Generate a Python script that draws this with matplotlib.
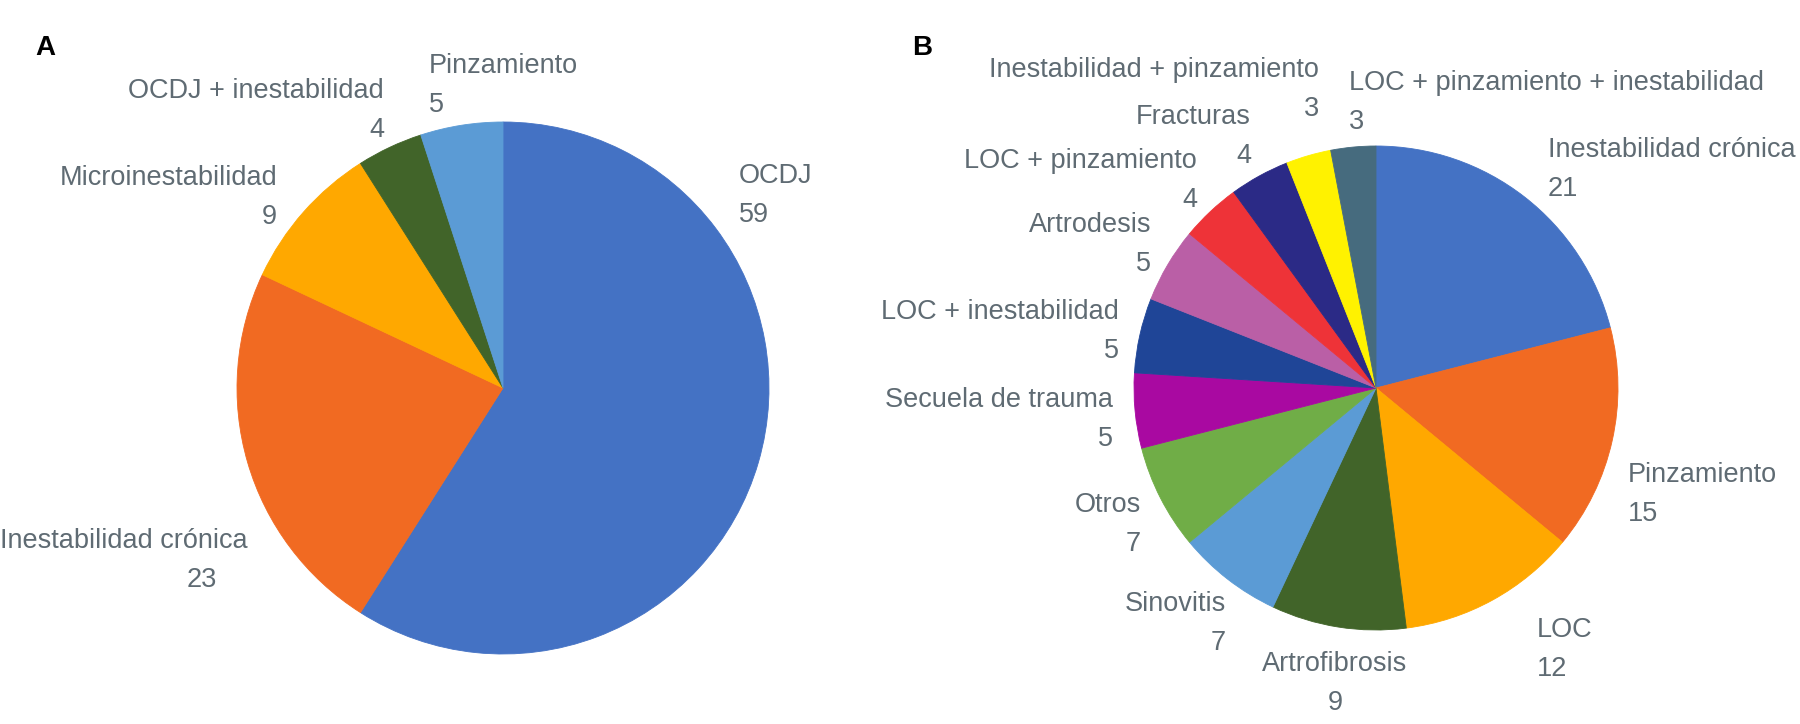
import matplotlib
matplotlib.use("Agg")
import matplotlib.pyplot as plt

plt.rcParams['font.family'] = ['Liberation Sans', 'DejaVu Sans']

# A
labels_a = ["OCDJ", "Inestabilidad crónica", "Microinestabilidad",
            "OCDJ + inestabilidad", "Pinzamiento"]
values_a = [59, 23, 9, 4, 5]
colors_a = ["#4472c4", "#f16a22", "#ffa800", "#416429", "#5b9bd5"]

# B
labels_b = ["Inestabilidad crónica", "Pinzamiento", "LOC", "Artrofibrosis",
            "Sinovitis", "Otros", "Secuela de trauma", "LOC + inestabilidad",
            "Artrodesis", "LOC + pinzamiento", "Fracturas",
            "Inestabilidad + pinzamiento", "LOC + pinzamiento + inestabilidad"]
values_b = [21, 15, 12, 9, 7, 7, 5, 5, 5, 4, 4, 3, 3]
colors_b = ["#4472c4", "#f16a22", "#ffa800", "#416429", "#5b9bd5", "#70ad47",
            "#a909a1", "#1f4597", "#ba5fa6", "#ee3338", "#2b2a86", "#fff200",
            "#466b7e"]

# label layout in image pixels: (x, baseline of name, ha), value sits one line below
lay_a = [(739, 183, 'left'), (248, 548, 'right'), (277, 185, 'right'),
         (384, 98, 'right'), (429, 73, 'left')]
val_x_a = [739, 217, 277, 384, 429]
lay_b = [(1548, 157, 'left'), (1628, 482, 'left'), (1537, 637, 'left'),
         (1335, 671, 'center'), (1226, 611, 'right'), (1141, 512, 'right'),
         (1113, 407, 'right'), (1119, 319, 'right'), (1151, 232, 'right'),
         (1197, 168, 'right'), (1251, 124, 'right'), (1319, 77, 'right'),
         (1349, 90, 'left')]

H = 724
LINE = 39
TXT = '#5f6b73'
FS = 19.5

fig = plt.figure(figsize=(18, 7.24), dpi=100)
ax = fig.add_axes([0, 0, 1, 1])


def draw_pie(vals, cols, cx, cy, r):
    wedges, _ = ax.pie(vals, colors=cols, startangle=90, counterclock=False,
                       center=(cx, H - cy), radius=r)
    for w in wedges:
        w.set_edgecolor(w.get_facecolor())
        w.set_linewidth(0.6)


draw_pie(values_a, colors_a, 503, 388, 266)
draw_pie(values_b, colors_b, 1376, 388, 242)

for i, (x, y, ha) in enumerate(lay_a):
    ax.text(x, H - y, labels_a[i], ha=ha, va='baseline', fontsize=FS, color=TXT)
    ax.text(val_x_a[i], H - y - LINE, str(values_a[i]), ha=ha, va='baseline',
            fontsize=FS, color=TXT)

for i, (x, y, ha) in enumerate(lay_b):
    ax.text(x, H - y, labels_b[i], ha=ha, va='baseline', fontsize=FS, color=TXT)
    ax.text(x, H - y - LINE, str(values_b[i]), ha=ha, va='baseline',
            fontsize=FS, color=TXT)

ax.text(45, H - 48, "A", ha='center', va='center', fontsize=20,
        fontweight='bold', color='black')
ax.text(922, H - 48, "B", ha='center', va='center', fontsize=20,
        fontweight='bold', color='black')

ax.set_xlim(0, 1800)
ax.set_ylim(0, H)
ax.set_aspect('auto')
ax.axis('off')

fig.savefig("out.png", dpi=100)
